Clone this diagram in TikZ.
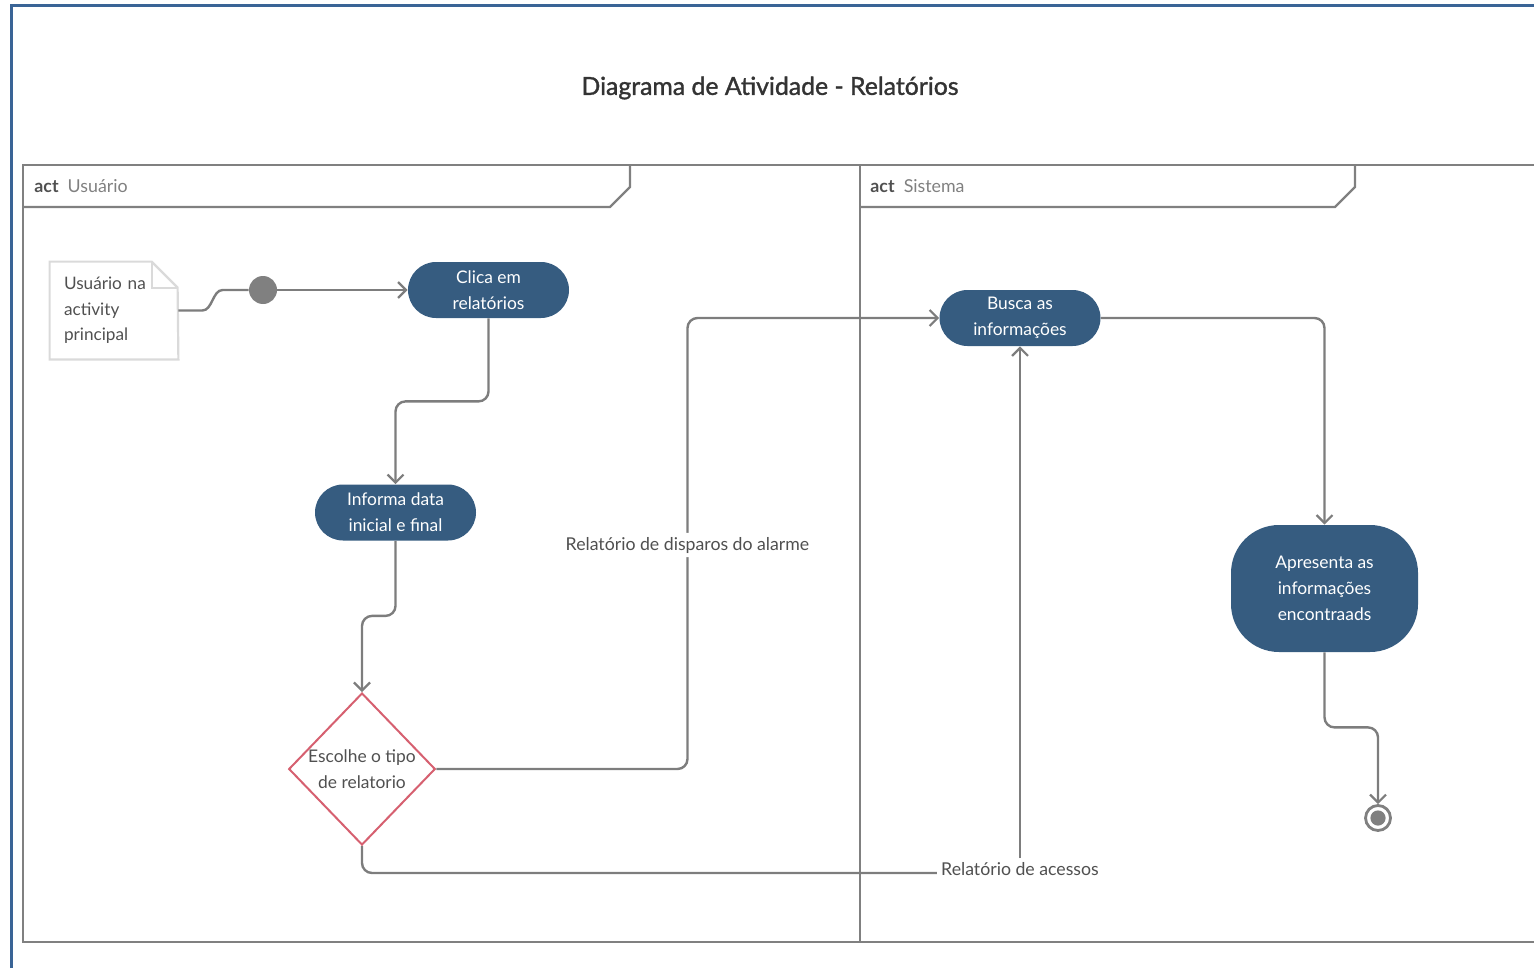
\documentclass[tikz,border=0pt]{standalone}
\usepackage{fontspec}
\setmainfont{Lato}
\newfontfamily\titlefont[FakeBold=1.3]{Lato}
\usetikzlibrary{arrows.meta,shapes.geometric,calc}
\definecolor{frameblue}{RGB}{58,100,150}
\definecolor{lanegray}{RGB}{128,128,128}
\definecolor{flowgray}{RGB}{125,125,125}
\definecolor{actfill}{RGB}{54,92,128}
\definecolor{decred}{RGB}{214,96,112}
\definecolor{notegray}{RGB}{218,218,218}
\definecolor{textgray}{RGB}{80,80,80}
\definecolor{titlegray}{RGB}{51,51,51}

\begin{document}
\begin{tikzpicture}[x=0.5pt,y=-0.5pt,
  lane/.style={draw=lanegray,line width=1.2pt},
  action/.style={rectangle,rounded corners=14pt,fill=actfill,text=white,
    minimum width=80.5pt,minimum height=28pt,align=center,inner sep=0pt,
    font=\fontsize{8.7}{13}\selectfont},
  decision/.style={diamond,draw=decred,line width=1pt,fill=white,
    minimum width=73pt,minimum height=76pt,inner sep=0pt,align=center,
    text=textgray,font=\fontsize{8.7}{13}\selectfont},
  flow/.style={draw=flowgray,line width=1.2pt,rounded corners=5pt},
  arr/.style={-{Straight Barb[length=4pt,width=8pt,line width=1.1pt]}},
  flowlabel/.style={fill=white,text=textgray,inner sep=2pt,
    font=\fontsize{8.85}{10}\selectfont},
  lanehead/.style={anchor=west,inner sep=0pt,font=\fontsize{8.9}{10}\selectfont}]

\useasboundingbox (0,0) rectangle (1534,968);

% outer blue frame
\draw[frameblue,line width=1.5pt] (11,968) -- (11,6) -- (1534,6);

% title
\node[text=titlegray,font=\titlefont\fontsize{12.4}{15}\selectfont] (title) at (770,88)
  {Diagrama de Atividade - Relatórios};

% swimlane frames
\draw[lane] (23,165) rectangle (860,942);
\draw[lane] (1534,165) -- (860,165) -- (860,942) -- (1534,942);
\draw[lane] (23,207) -- (610,207) -- (630,187) -- (630,165);
\draw[lane] (860,207) -- (1335,207) -- (1355,187) -- (1355,165);
\node[lanehead] (laneU) at (34,186)
  {\textcolor{textgray}{\textbf{act}}\ \ \textcolor{lanegray}{Usuário}};
\node[lanehead] (laneS) at (870,186)
  {\textcolor{textgray}{\textbf{act}}\ \ \textcolor{lanegray}{Sistema}};

% note
\node[minimum width=64pt,minimum height=48.5pt,text width=50pt,inner sep=7pt,
  align=left,text=textgray,font=\fontsize{8.6}{12.75}\selectfont]
  (note) at (114,310.5) {Usuário na\\activity\\principal};
\draw[notegray,line width=1.1pt] (note.north west) -- ++(102,0) -- ++(26,26)
  -- (note.south east) -- (note.south west) -- cycle;
\draw[notegray,line width=1.1pt] ($(note.north west)+(102,0)$) -- ++(0,26) -- ++(26,0);

% initial node
\node[circle,fill=lanegray,minimum size=14pt,inner sep=0pt] (init) at (263,290) {};

% actions
\node[action] (clica) at (488.5,290) {Clica em\\relatórios};
\node[action] (informa) at (395.5,512.5) {Informa data\\inicial e final};
\node[decision] (dec) at (362,769) {Escolhe o tipo\\de relatorio};
\node[action] (busca) at (1020,318) {Busca as\\informações};
\node[action,rounded corners=24pt,minimum width=93.5pt,minimum height=63.5pt]
  (apres) at (1324.5,588.5) {Apresenta as\\informações\\encontraads};

% final node
\node[circle,draw=lanegray,line width=1.4pt,fill=white,minimum size=12.5pt,
  inner sep=0pt] (final) at (1378,818) {};
\fill[lanegray] (final.center) circle (3.8pt);

% flows
\coordinate (s1) at ($(note.east)+(24,0)$);
\coordinate (s2) at ($(init.west)+(-26,0)$);
\draw[draw=flowgray,line width=1.2pt] (note.east) -- (s1)
  .. controls ($(s1)+(10,0)$) and ($(s2)+(-10,0)$) .. (s2) -- (init.west);
\draw[flow,arr] (init.east) -- (clica.west);
\draw[flow,arr] (clica.south) -- ++(0,83) -| (informa.north);
\draw[flow,arr] (informa.south) -- ++(0,75) -| (dec.north);
\draw[flow,arr] (dec.east) -| (687.5,545) node[flowlabel] {Relatório de disparos do alarme}
  |- (busca.west);
\draw[flow,arr] (busca.east) -| (apres.north);
\draw[flow,arr] (apres.south) -- ++(0,75) -| (final.north);
\node[flowlabel] (acc) at (1020,869) {Relatório de acessos};
\draw[flow] (dec.south) |- ($(acc.west)+(0,4)$);
\draw[flow,arr] (acc.north) -- (busca.south);
\end{tikzpicture}
\end{document}
